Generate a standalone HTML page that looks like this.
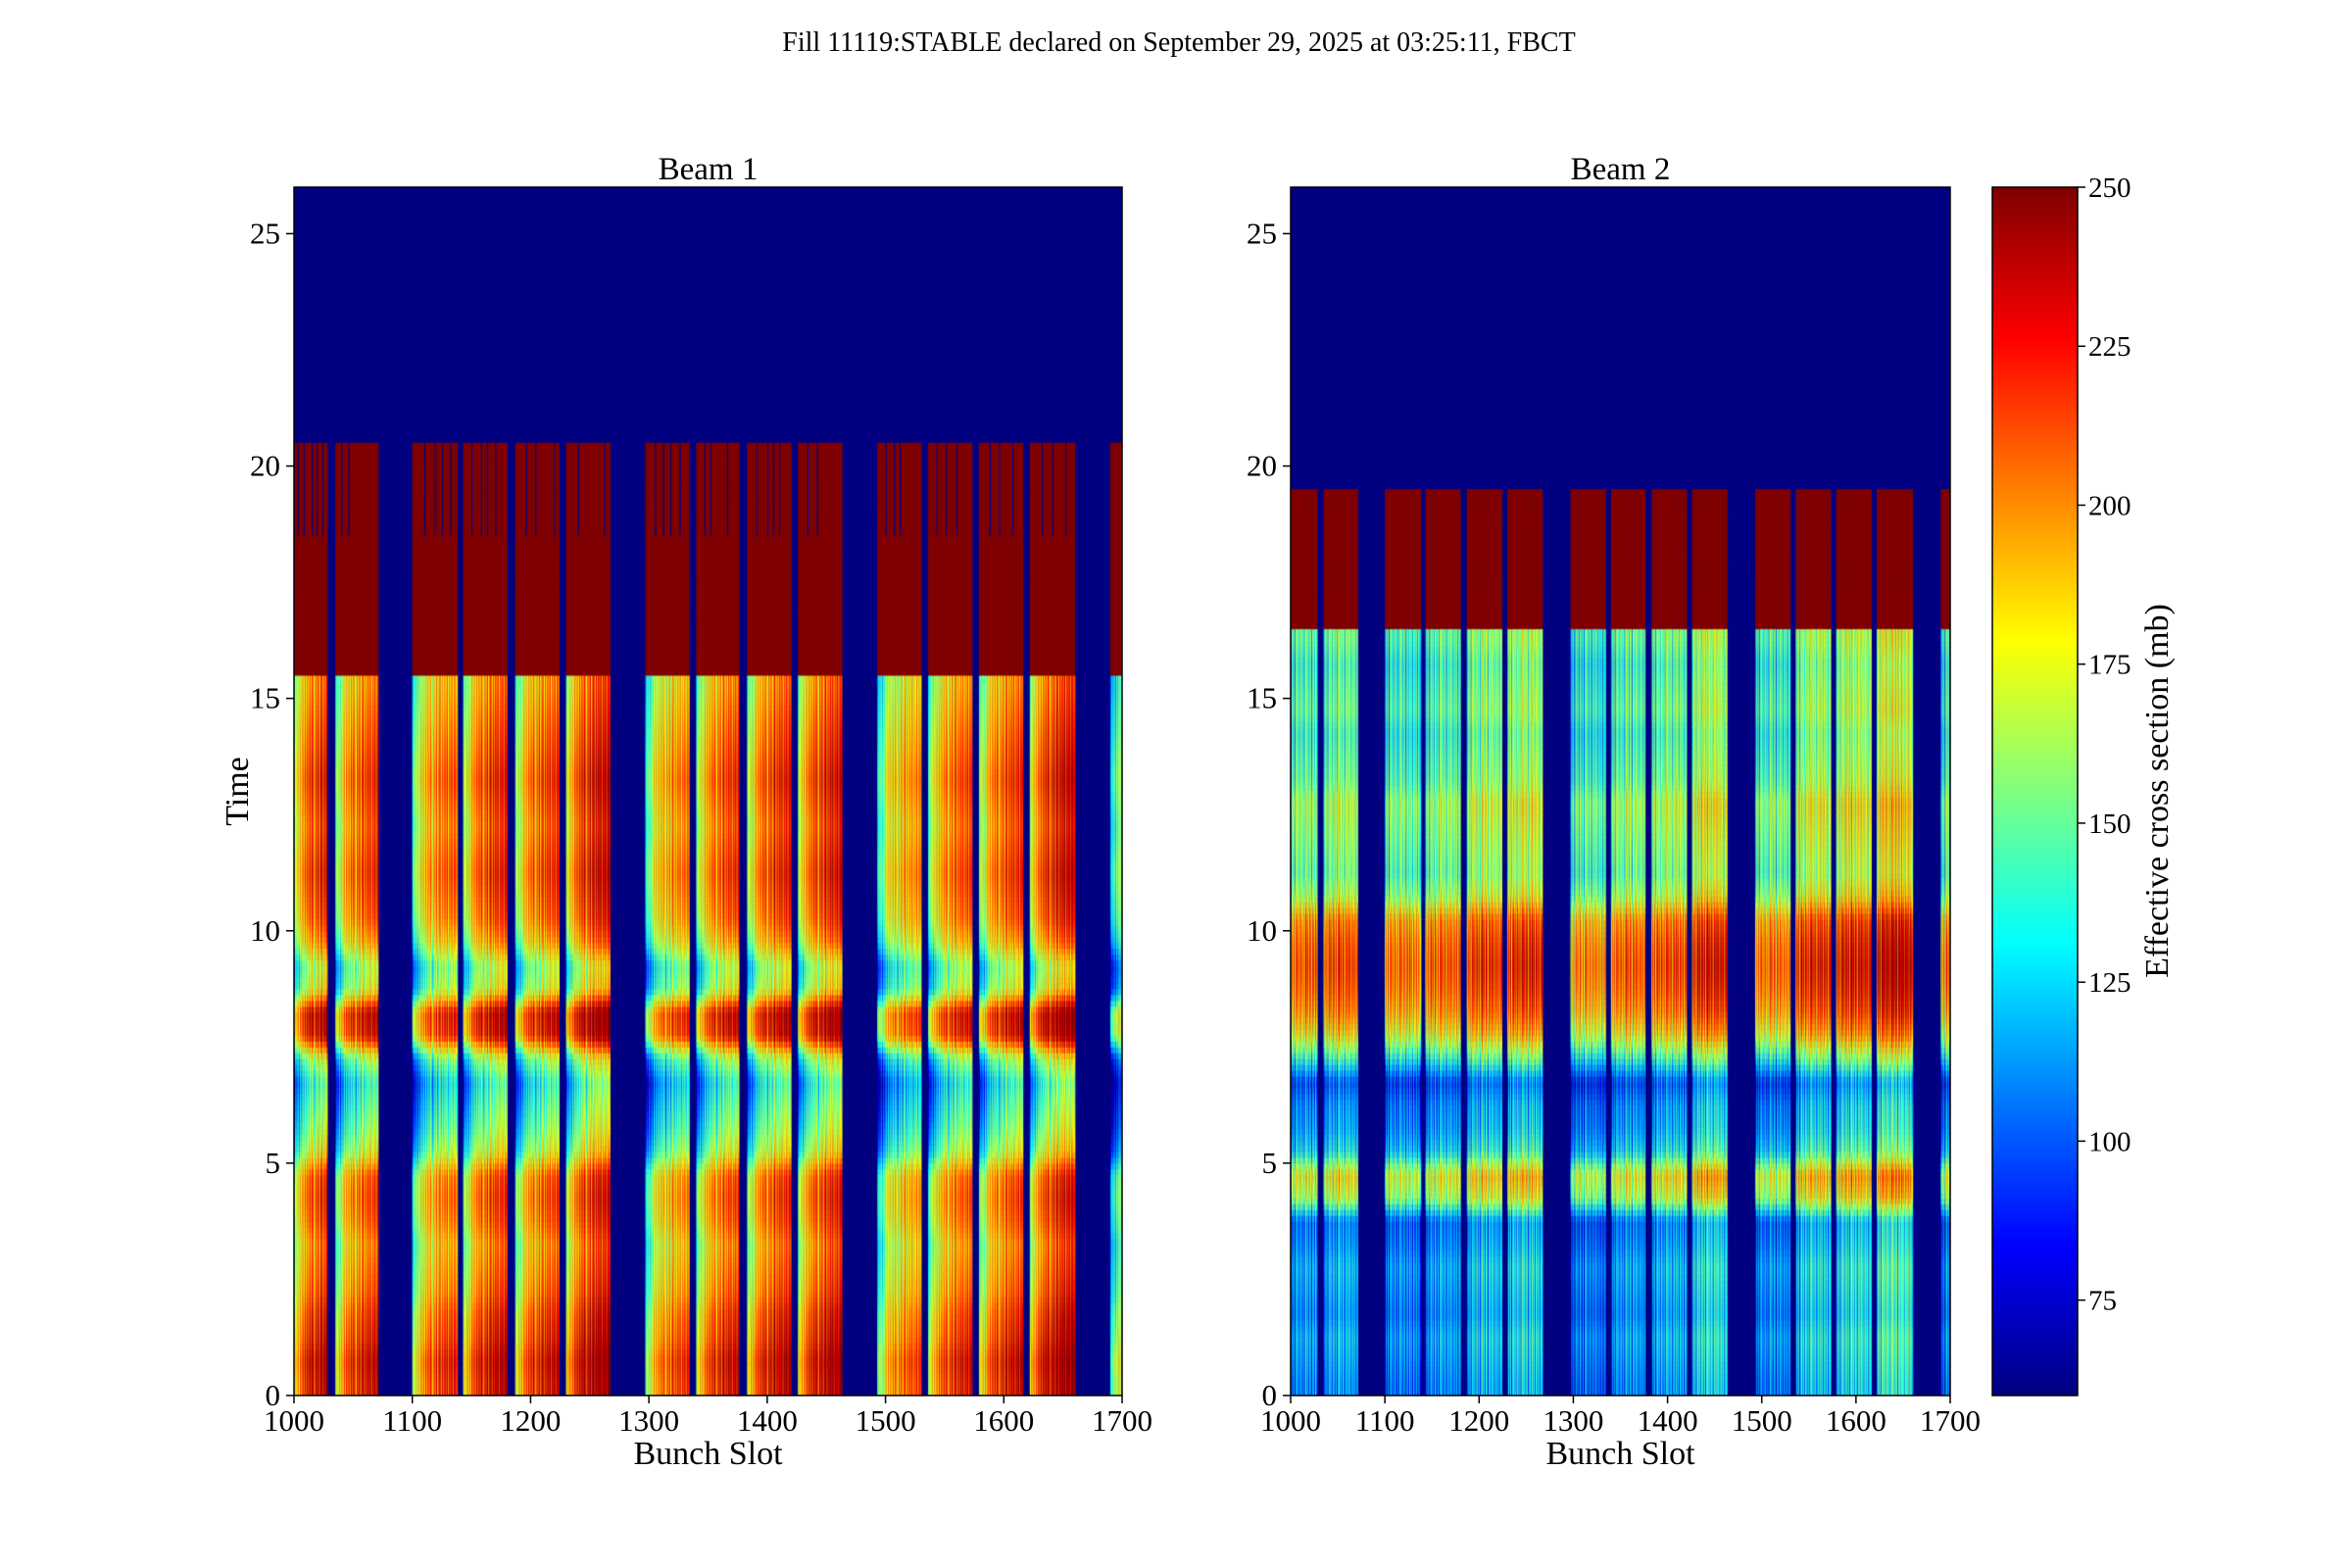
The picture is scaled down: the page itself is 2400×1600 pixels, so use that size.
<!DOCTYPE html>
<html><head><meta charset="utf-8"><style>
body{margin:0;background:#fff;}
#wrap{position:relative;width:2400px;height:1600px;overflow:hidden;font-family:"Liberation Serif",serif;}
canvas{position:absolute;}
svg{position:absolute;left:0;top:0;}
</style></head><body>
<div id="wrap">
<canvas id="c1" style="left:300px;top:191px" width="845" height="1233"></canvas>
<canvas id="c2" style="left:1317px;top:191px" width="673" height="1233"></canvas>
<canvas id="cb" style="left:2033px;top:191px" width="87" height="1233"></canvas>
<svg id="s" width="2400" height="1600"></svg>
</div>
<script>
const xTicks=[1000,1100,1200,1300,1400,1500,1600,1700];
const yTicks=[0,5,10,15,20,25];
const cbTicks=[75,100,125,150,175,200,225,250];
const vMin=60, vMax=250;
const trainStarts=[1000,1035,1100,1143,1187,1230,1297,1340,1383,1426,1493,1536,1579,1622,1690];
const trainEnds  =[1028,1071,1138,1180,1224,1267,1334,1376,1420,1463,1530,1573,1616,1660,1700];
const b1Profile=[205,210,200,195,185,180,175,185,190,185,150,135,125,115,140,205,210,150,140,170,185,190,195,190,185,190,195,190,185,180,175];
const b2Profile=[110,115,120,110,115,120,110,105,165,180,130,115,110,95,140,180,200,210,215,210,200,165,150,155,160,165,150,145,140,150,145,140,150];
const b1PosOffset=[-45,-20,-35,-5,-40,0,-25,15,-15,20,-10,25,-5,30,0,35,10,-15,30,5,40,-5,25,45,0,35,10,40,15,45,5,35,20,45,10,40,30,20];
const b2PosOffset=[-30,10,-20,20,-40,5,25,-10,15,-25,30,0,-15,20,-30,10,35,-5,15,-20,25,5,-35,20,10,-15,30,-5,15,-25,20,0,-10,25,-30,10,5,-20];
const b1TrainOffset=[10,0,-10,5,0,15,-15,0,5,10,-20,-5,0,15,-30];
const b2TrainOffset=[-5,0,-10,-5,5,10,-15,-5,0,15,-10,10,15,25,-10];
const b1GapSlots=[1003,1008,1015,1019,1024,1040,1046,1110,1119,1125,1132,1150,1158,1163,1170,1196,1204,1220,1240,1262,1305,1312,1318,1326,1347,1352,1366,1391,1400,1405,1410,1434,1442,1500,1507,1512,1543,1551,1560,1588,1596,1607,1632,1641,1652];
const b1Bands={low:15.5,red:20.5,gapFrom:18.5};
const b2Bands={low:16.5,red:19.5,gapFrom:99};
const tMax=26, xMin=1000, xMax=1700, dt=0.125, pStep=0.5;

function jet(v){let x=(v-vMin)/(vMax-vMin);x=Math.max(0,Math.min(1,x));
 const c=f=>Math.round(255*Math.max(0,Math.min(1,1.5-Math.abs(4*x-f))));
 return `rgb(${c(3)},${c(2)},${c(1)})`;}
function profAt(prof,t){const u=t/pStep-0.5;const i=Math.max(0,Math.min(prof.length-1,Math.floor(u)));const j=Math.min(prof.length-1,i+1);const f=Math.max(0,Math.min(1,u-i));return prof[i]*(1-f)+prof[j]*f;}
function drawBeam(id,prof,posOff,trOff,bands,gaps){
 const cv=document.getElementById(id),ctx=cv.getContext('2d'),W=cv.width,H=cv.height;
 const sx=s=>(s-xMin)/(xMax-xMin)*W, sy=t=>H-t/tMax*H;
 ctx.fillStyle=jet(0);ctx.fillRect(0,0,W,H);
 trainStarts.forEach((st,ti)=>{
  for(let s=st;s<trainEnds[ti];s++){
   const pos=s-st, x0=sx(s), x1=sx(s+1)+0.6;
   for(let r=0;r*dt<bands.red-1e-9;r++){
    const t=r*dt; let v;
    if(t<bands.low-1e-9) v=profAt(prof,t+dt/2)+posOff[pos%posOff.length]+trOff[ti];
    else if(t>=bands.gapFrom && gaps.includes(s)) v=0;
    else v=300;
    ctx.fillStyle=jet(v);
    ctx.fillRect(x0,sy(t+dt),x1-x0,sy(t)-sy(t+dt)+0.6);
   }
  }
 });
}
drawBeam('c1',b1Profile,b1PosOffset,b1TrainOffset,b1Bands,b1GapSlots);
drawBeam('c2',b2Profile,b2PosOffset,b2TrainOffset,b2Bands,[]);
(function(){const cv=document.getElementById('cb'),ctx=cv.getContext('2d');
 for(let y=0;y<cv.height;y++){ctx.fillStyle=jet(vMax-(y/cv.height)*(vMax-vMin));ctx.fillRect(0,y,cv.width,1);}})();

const S=document.getElementById('s'),NS='http://www.w3.org/2000/svg';
function el(tag,attrs,txt){const e=document.createElementNS(NS,tag);for(const k in attrs)e.setAttribute(k,attrs[k]);if(txt!==undefined)e.textContent=txt;S.appendChild(e);return e;}
function axes(L,R,T,B,title,name,ylabel){
 const fx=s=>L+(s-xMin)/(xMax-xMin)*(R-L), fy=t=>B-t/tMax*(B-T);
 const fr=el('rect',{x:L,y:T,width:R-L,height:B-T,fill:'none',stroke:'#000','stroke-width':1.5});
 
 xTicks.forEach(v=>{const x=fx(v);
  el('line',{x1:x,x2:x,y1:B,y2:B+8,stroke:'#000','stroke-width':1.5});
  const t=el('text',{x:x,y:B+36,'font-size':31,'text-anchor':'middle'},v);
  });
 yTicks.forEach(v=>{const y=fy(v);
  el('line',{x1:L-8,x2:L,y1:y,y2:y,stroke:'#000','stroke-width':1.5});
  const t=el('text',{x:L-14,y:y+10,'font-size':31,'text-anchor':'end'},v);
  });
 const ti=el('text',{x:(L+R)/2,y:T-8,'font-size':33,'text-anchor':'middle'},title);
 
 const xl=el('text',{x:(L+R)/2,y:B+70,'font-size':34,'text-anchor':'middle'},'Bunch Slot');
 
 if(ylabel){const yl=el('text',{x:0,y:0,'font-size':34,'text-anchor':'middle',transform:`translate(253,${(T+B)/2}) rotate(-90)`},'Time');
  }
}
axes(300,1145,191,1424,'Beam 1','beam1',true);
axes(1317,1990,191,1424,'Beam 2','beam2',false);
el('rect',{x:2033,y:191,width:87,height:1233,fill:'none',stroke:'#000','stroke-width':1.5});
cbTicks.forEach(v=>{const y=1424-(v-vMin)/(vMax-vMin)*1233;
 el('line',{x1:2120,x2:2128,y1:y,y2:y,stroke:'#000','stroke-width':1.5});
 const t=el('text',{x:2131,y:y+10,'font-size':29},v);
 });
const cl=el('text',{x:0,y:0,'font-size':34,'text-anchor':'middle',transform:'translate(2212,807) rotate(-90)'},'Effective cross section (mb)');

const mt=el('text',{x:1203,y:52,'font-size':28,'text-anchor':'middle'},'Fill 11119:STABLE declared on September 29, 2025 at 03:25:11, FBCT');

</script>
</body></html>
